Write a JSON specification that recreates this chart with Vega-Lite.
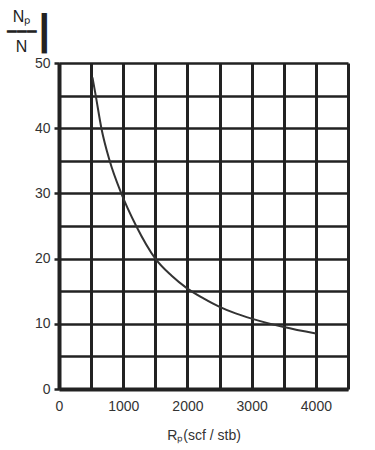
{
  "$schema": "https://vega.github.io/schema/vega-lite/v6.json",
  "autosize": "none",
  "width": 289,
  "height": 326,
  "padding": {"left": 59, "top": 63, "right": 27, "bottom": 61},
  "background": "white",
  "config": {
    "font": "Liberation Sans",
    "view": {"stroke": null},
    "axis": {"labelFont": "Liberation Sans", "titleFont": "Liberation Sans", "labelColor": "#333", "titleColor": "#333", "titleFontWeight": "normal", "labelFontSize": 14, "titleFontSize": 14}
  },
  "title": {
    "text": "┃",
    "anchor": "start",
    "frame": "group",
    "fontSize": 34,
    "fontWeight": "normal",
    "font": "DejaVu Sans",
    "color": "#222",
    "baseline": "alphabetic",
    "dx": -25,
    "offset": -71
  },
  "data": {
    "values": [
      {"Rp": 521, "ratio": 47.8},
      {"Rp": 572, "ratio": 45},
      {"Rp": 660, "ratio": 40},
      {"Rp": 789, "ratio": 35},
      {"Rp": 970, "ratio": 30},
      {"Rp": 1202, "ratio": 25},
      {"Rp": 1500, "ratio": 20},
      {"Rp": 1750, "ratio": 17.4},
      {"Rp": 2000, "ratio": 15.4},
      {"Rp": 2250, "ratio": 13.9},
      {"Rp": 2500, "ratio": 12.6},
      {"Rp": 2750, "ratio": 11.6},
      {"Rp": 3000, "ratio": 10.8},
      {"Rp": 3500, "ratio": 9.5},
      {"Rp": 4000, "ratio": 8.5}
    ]
  },
  "mark": {"type": "line", "interpolate": "monotone", "color": "#333", "strokeWidth": 2},
  "encoding": {
    "x": {
      "field": "Rp",
      "type": "quantitative",
      "scale": {"domain": [0, 4500], "nice": false},
      "axis": {
        "values": [0, 500, 1000, 1500, 2000, 2500, 3000, 3500, 4000, 4500],
        "labelExpr": "datum.value % 1000 === 0 && datum.value <= 4000 ? datum.label : ''",
        "labelFlush": false,
        "format": "d",
        "ticks": false,
        "labelPadding": 10,
        "grid": true,
        "gridColor": "#222",
        "gridWidth": 3,
        "gridOpacity": 1,
        "domainColor": "#222",
        "domainWidth": 4,
        "title": "Rₚ(scf / stb)",
        "titlePadding": 15
      }
    },
    "y": {
      "field": "ratio",
      "type": "quantitative",
      "scale": {"domain": [0, 50], "nice": false},
      "axis": {
        "values": [0, 5, 10, 15, 20, 25, 30, 35, 40, 45, 50],
        "labelExpr": "datum.value % 10 === 0 ? datum.label : ''",
        "tickOpacity": {"condition": {"test": "datum.value % 10 === 0", "value": 1}, "value": 0},
        "tickSize": 5,
        "tickWidth": 2.5,
        "tickColor": "#222",
        "labelPadding": 4,
        "grid": true,
        "gridColor": "#222",
        "gridWidth": 2.5,
        "gridOpacity": 1,
        "domainColor": "#222",
        "domainWidth": 4,
        "title": ["Nₚ", "━━━", "N"],
        "titleAngle": 0,
        "titleAlign": "center",
        "titleBaseline": "alphabetic",
        "titleFontSize": 16,
        "titleX": -38,
        "titleY": -42,
        "titleLineHeight": 15,
        "titleColor": "#222"
      }
    }
  }
}
